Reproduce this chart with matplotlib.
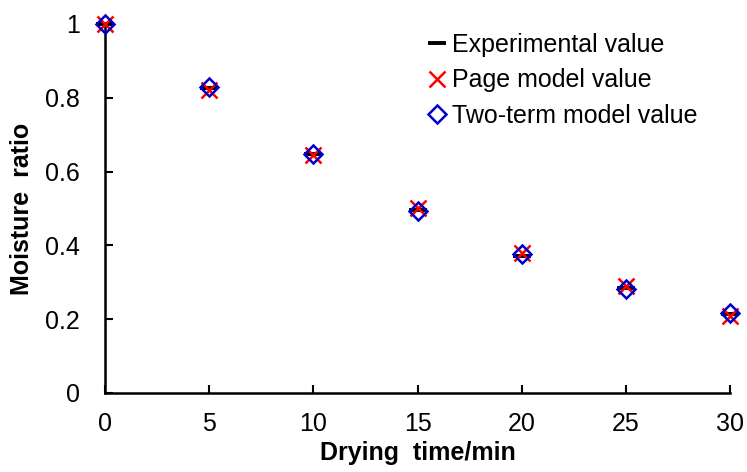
import numpy as np
import matplotlib.pyplot as plt

plt.rcParams['font.family'] = ['Liberation Sans', 'DejaVu Sans']

time_min = [0, 5, 10, 15, 20, 25, 30]
experimental = [1.0, 0.826, 0.648, 0.495, 0.372, 0.284, 0.214]
page_model = [1.0, 0.820, 0.644, 0.500, 0.380, 0.290, 0.208]
two_term = [1.0, 0.830, 0.648, 0.494, 0.378, 0.283, 0.218]

fig = plt.figure(figsize=(7.47, 4.72), dpi=100)
ax = fig.add_axes([0.1406, 0.1674, 0.8367, 0.7818])

ax.plot(time_min, experimental, linestyle='none', marker='_', color='black',
        markersize=13, markeredgewidth=2.8, label='Experimental value', clip_on=False, zorder=3)
ax.plot(time_min, page_model, linestyle='none', marker='x', color='red',
        markersize=12, markeredgewidth=1.8, label='Page model value', clip_on=False, zorder=4)
ax.plot(time_min, two_term, linestyle='none', marker='D', color='#0000cc',
        markerfacecolor='none', markersize=9.5, markeredgewidth=1.8,
        label='Two-term model value', clip_on=False, zorder=5)

ax.set_xlim(0, 30)
ax.set_ylim(0, 1)
ax.set_xticks([0, 5, 10, 15, 20, 25, 30])
ax.set_yticks([0, 0.2, 0.4, 0.6, 0.8, 1])
ax.set_yticklabels(['0', '0.2', '0.4', '0.6', '0.8', '1'])
ax.tick_params(direction='in', length=6, width=1.5, labelsize=18)
ax.tick_params(axis='x', pad=14)
ax.tick_params(axis='y', pad=18)
for side in ['top', 'right']:
    ax.spines[side].set_visible(False)
for side in ['left', 'bottom']:
    ax.spines[side].set_linewidth(1.8)

ax.set_xlabel('Drying  time/min', fontsize=18, fontweight='bold', labelpad=3)
ax.set_ylabel('Moisture  ratio', fontsize=18, fontweight='bold', labelpad=8)

ax.legend(loc='upper left', bbox_to_anchor=(0.561, 0.952), bbox_transform=fig.transFigure,
          frameon=False, fontsize=18, handlelength=0.6, handletextpad=0.3,
          labelspacing=0.47, borderaxespad=0)

fig.savefig('out.png', dpi=100)
